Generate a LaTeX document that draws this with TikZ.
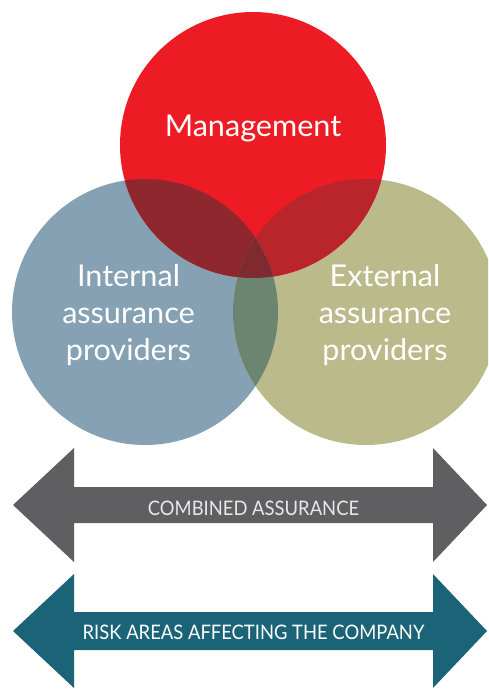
\documentclass[tikz,border=0pt]{standalone}
\usepackage{fontspec}
\setmainfont{Lato}
\usetikzlibrary{calc}
\definecolor{mred}{HTML}{ED1C24}
\definecolor{iblue}{HTML}{86A1B3}
\definecolor{eolive}{HTML}{BBBA8B}
\definecolor{rb}{HTML}{8F272E}
\definecolor{ro}{HTML}{BA242B}
\definecolor{bo}{HTML}{6C8570}
\definecolor{rbo}{HTML}{7F2A2F}
\definecolor{garrow}{HTML}{5F5F61}
\definecolor{tarrow}{HTML}{1B6478}
\definecolor{atext}{HTML}{E8E8E8}
\newcommand{\vx}[1]{\scalebox{1.02}[1]{#1}}
\newcommand{\ax}[1]{\scalebox{0.92}[1]{#1}}
\tikzset{
  venn/.style={circle, minimum size=266pt, inner sep=0pt, draw=none},
  vlabel/.style={text=white, align=center, font=\fontsize{30}{37}\selectfont, inner sep=0pt},
  alabel/.style={text=atext, inner sep=0pt, font=\fontsize{20}{20}\selectfont}
}
\begin{document}
\begin{tikzpicture}[x=1pt,y=-1pt]
\useasboundingbox (0,0) rectangle (488,689);
\clip (0,0) rectangle (488,689);
% circles
\node[venn, fill=iblue] (int) at (145,312) {};
\node[venn, fill=eolive] (ext) at (366,312) {};
\node[venn, fill=mred] (mgt) at (253,145) {};
% overlaps
\begin{scope}
  \clip (mgt.center) circle (133);
  \fill[rb] (int.center) circle (133);
\end{scope}
\begin{scope}
  \clip (mgt.center) circle (133);
  \fill[ro] (ext.center) circle (133);
\end{scope}
\begin{scope}
  \clip (int.center) circle (133);
  \fill[bo] (ext.center) circle (133);
\end{scope}
\begin{scope}
  \clip (int.center) circle (133);
  \clip (ext.center) circle (133);
  \fill[rbo] (mgt.center) circle (133);
\end{scope}
% labels
\node[vlabel, anchor=base] (lmgt) at (253,136) {\vx{Management}};
\node[vlabel, anchor=base] (lint) at (128.5,360) {\vx{Internal}\\\vx{assurance}\\\vx{providers}};
\node[vlabel, anchor=base] (lext) at (385,360) {\vx{External}\\\vx{assurance}\\\vx{providers}};
% combined assurance arrow
\coordinate (gl) at (13,505);
\coordinate (gr) at (487,505);
\fill[garrow] (gl) -- (74,448) -- (74,487) -- (433,487) -- (433,448) -- (gr)
  -- (433,562) -- (433,523) -- (74,523) -- (74,562) -- cycle;
\node[alabel, anchor=base] (ca) at (253.5,515) {\ax{COMBINED ASSURANCE}};
% risk areas arrow
\coordinate (tl) at (13,631);
\coordinate (tr) at (487,631);
\fill[tarrow] (tl) -- (74,574) -- (74,612) -- (433,612) -- (433,574) -- (tr)
  -- (433,688) -- (433,650) -- (74,650) -- (74,688) -- cycle;
\node[alabel, anchor=base, text=white] (ra) at (253.5,639) {\ax{RISK AREAS AFFECTING THE COMPANY}};
\end{tikzpicture}
\end{document}
